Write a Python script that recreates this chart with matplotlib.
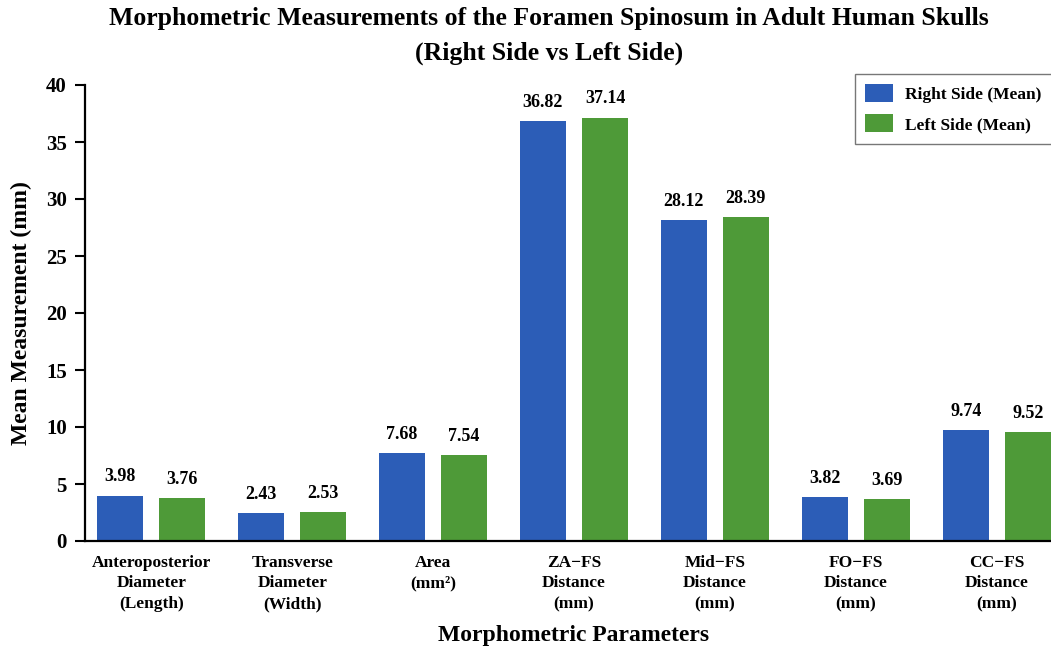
import matplotlib
matplotlib.use("Agg")
import matplotlib.pyplot as plt
import numpy as np

categories = ["Anteroposterior\nDiameter\n(Length)", "Transverse\nDiameter\n(Width)",
              "Area\n(mm²)", "ZA\u2212FS\nDistance\n(mm)", "Mid\u2212FS\nDistance\n(mm)",
              "FO\u2212FS\nDistance\n(mm)", "CC\u2212FS\nDistance\n(mm)"]
right_side = [3.98, 2.43, 7.68, 36.82, 28.12, 3.82, 9.74]
left_side = [3.76, 2.53, 7.54, 37.14, 28.39, 3.69, 9.52]
yticks = [0, 5, 10, 15, 20, 25, 30, 35, 40]

plt.rcParams['font.family'] = ['Liberation Serif', 'DejaVu Serif']
plt.rcParams['font.weight'] = 'bold'

fig = plt.figure(figsize=(10.51, 6.5), dpi=100)
ax = fig.add_axes([85/1051, 109/650, (1063-85)/1051, (541-85)/650])

x = np.arange(len(categories))
w = 0.33
off = 0.22
blue = '#2C5DB7'
green = '#4E9A38'
b1 = ax.bar(x - off, right_side, w, color=blue, label='Right Side (Mean)')
b2 = ax.bar(x + off, left_side, w, color=green, label='Left Side (Mean)')

for bars, vals in ((b1, right_side), (b2, left_side)):
    for b, v in zip(bars, vals):
        ax.text(b.get_x() + b.get_width()/2, v + 0.9, f"{v:.2f}", ha='center', va='bottom',
                fontsize=13, fontweight='bold')

ax.set_xlim(-0.47, len(categories) - 1 + 0.47)
ax.set_ylim(0, 40)
ax.set_yticks(yticks)
ax.set_xticks(x)
ax.set_xticklabels(categories, fontsize=12.5, fontweight='bold', linespacing=1.38)
ax.tick_params(axis='x', length=0, pad=10)
ax.tick_params(axis='y', labelsize=15, width=1.5, length=7, pad=6)
for s in ['top', 'right']:
    ax.spines[s].set_visible(False)
for s in ['left', 'bottom']:
    ax.spines[s].set_linewidth(1.6)

ax.set_ylabel('Mean Measurement (mm)', fontsize=17, fontweight='bold', labelpad=10)
ax.set_xlabel('Morphometric Parameters', fontsize=17, fontweight='bold', labelpad=9)

fig.suptitle('Morphometric Measurements of the Foramen Spinosum in Adult Human Skulls\n(Right Side vs Left Side)',
             x=0.522, y=0.99, fontsize=18.5, fontweight='bold', linespacing=1.65)

leg = fig.legend(handles=[b1, b2], loc='upper left', bbox_to_anchor=(855/1051, (650-74)/650),
                 borderaxespad=0, fontsize=12.5, frameon=True, fancybox=False, edgecolor='#555555',
                 handlelength=1.6, handleheight=1.2, handletextpad=0.7, borderpad=0.6,
                 labelspacing=0.65)
leg.get_frame().set_linewidth(1.0)

fig.savefig('out.png', dpi=100)
